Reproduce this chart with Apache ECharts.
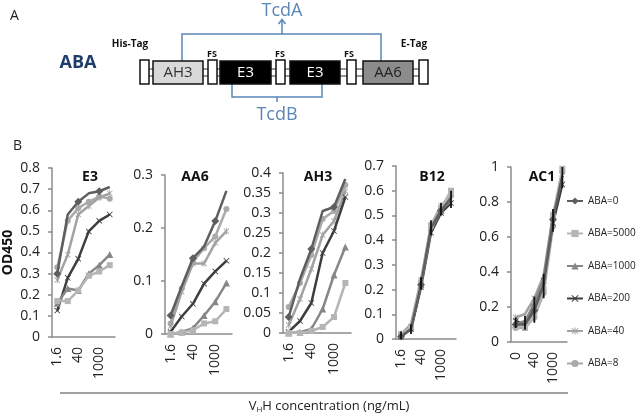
<!DOCTYPE html>
<html>
<head>
<meta charset="utf-8">
<script src="https://cdn.jsdelivr.net/npm/echarts@6/dist/echarts.min.js"></script>
<style>html,body{margin:0;padding:0;background:#fff}#c{width:640px;height:416px}</style>
</head>
<body>
<div id="c"></div>
<script>
// ---- categories / tick labels ----
const cats = ["1.6", "8", "40", "200", "1000", "5000"];
const catsAC1 = ["0", "8", "40", "200", "1000", "5000"];
const seriesNames = ["ABA=0", "ABA=5000", "ABA=1000", "ABA=200", "ABA=40", "ABA=8"];
const panelNames = ["E3", "AA6", "AH3", "B12", "AC1"];

// ---- E3 ----
const e3_aba0    = [0.30, 0.58, 0.64, 0.68, 0.69, 0.71];
const e3_aba5000 = [0.17, 0.17, 0.22, 0.29, 0.31, 0.34];
const e3_aba1000 = [0.16, 0.23, 0.22, 0.30, 0.34, 0.39];
const e3_aba200  = [0.125, 0.28, 0.37, 0.50, 0.55, 0.58];
const e3_aba40   = [0.27, 0.39, 0.58, 0.62, 0.66, 0.68];
const e3_aba8    = [0.33, 0.55, 0.61, 0.64, 0.665, 0.655];
// ---- AA6 ----
const aa6_aba0    = [0.035, 0.09, 0.143, 0.165, 0.213, 0.27];
const aa6_aba5000 = [0.0, 0.003, 0.007, 0.02, 0.024, 0.047];
const aa6_aba1000 = [0.0, 0.004, 0.011, 0.035, 0.061, 0.096];
const aa6_aba200  = [0.004, 0.033, 0.057, 0.095, 0.118, 0.138];
const aa6_aba40   = [0.015, 0.08, 0.133, 0.133, 0.172, 0.194];
const aa6_aba8    = [0.02, 0.086, 0.136, 0.162, 0.184, 0.236];
// ---- AH3 ----
const ah3_aba0    = [0.04, 0.135, 0.21, 0.305, 0.315, 0.385];
const ah3_aba5000 = [0.0, 0.0, 0.005, 0.015, 0.04, 0.125];
const ah3_aba1000 = [0.0, 0.002, 0.01, 0.06, 0.145, 0.215];
const ah3_aba200  = [0.003, 0.03, 0.075, 0.2, 0.255, 0.34];
const ah3_aba40   = [0.02, 0.085, 0.16, 0.245, 0.28, 0.355];
const ah3_aba8    = [0.065, 0.125, 0.195, 0.285, 0.305, 0.37];
// ---- B12 ----
const b12_aba0    = [0.01, 0.04, 0.22, 0.45, 0.52, 0.57];
const b12_aba5000 = [0.02, 0.05, 0.23, 0.46, 0.53, 0.60];
const b12_aba1000 = [0.01, 0.05, 0.22, 0.44, 0.52, 0.56];
const b12_aba200  = [0.01, 0.04, 0.21, 0.43, 0.51, 0.55];
const b12_aba40   = [0.02, 0.06, 0.24, 0.46, 0.54, 0.58];
const b12_aba8    = [0.01, 0.04, 0.22, 0.45, 0.53, 0.58];
const b12_errLow  = [0.0, 0.02, 0.20, 0.42, 0.50, 0.53];
const b12_errHigh = [0.03, 0.06, 0.25, 0.48, 0.55, 0.60];
// ---- AC1 ----
const ac1_aba0    = [0.10, 0.10, 0.18, 0.33, 0.70, 0.95];
const ac1_aba5000 = [0.09, 0.08, 0.15, 0.30, 0.72, 0.99];
const ac1_aba1000 = [0.10, 0.12, 0.22, 0.36, 0.72, 0.95];
const ac1_aba200  = [0.12, 0.10, 0.20, 0.35, 0.68, 0.90];
const ac1_aba40   = [0.14, 0.16, 0.25, 0.38, 0.73, 0.92];
const ac1_aba8    = [0.08, 0.08, 0.14, 0.28, 0.66, 0.97];
const ac1_errLow  = [0.08, 0.07, 0.11, 0.25, 0.63, 0.88];
const ac1_errHigh = [0.14, 0.15, 0.26, 0.39, 0.76, 1.00];

// ---- y axis ranges ----
const yMax = [0.8, 0.3, 0.4, 0.7, 1.0];
const yInterval = [0.1, 0.1, 0.05, 0.1, 0.2];

const panelData = [
  [e3_aba0, e3_aba5000, e3_aba1000, e3_aba200, e3_aba40, e3_aba8],
  [aa6_aba0, aa6_aba5000, aa6_aba1000, aa6_aba200, aa6_aba40, aa6_aba8],
  [ah3_aba0, ah3_aba5000, ah3_aba1000, ah3_aba200, ah3_aba40, ah3_aba8],
  [b12_aba0, b12_aba5000, b12_aba1000, b12_aba200, b12_aba40, b12_aba8],
  [ac1_aba0, ac1_aba5000, ac1_aba1000, ac1_aba200, ac1_aba40, ac1_aba8]
];
const errBars = { 3: [b12_errLow, b12_errHigh], 4: [ac1_errLow, ac1_errHigh] };

// ---- styling ----
const X_PATH = 'path://M1,0L5,4L9,0L10,1L6,5L10,9L9,10L5,6L1,10L0,9L4,5L0,1Z';
const STAR_PATH = 'path://M1,0L5,4L9,0L10,1L6,5L10,9L9,10L5,6L1,10L0,9L4,5L0,1Z M4.3,-1H5.7V11H4.3Z';
const styles = [
  { color: '#5e5e5e', symbol: 'diamond', size: 8 },
  { color: '#b5b5b5', symbol: 'rect', size: 6 },
  { color: '#878787', symbol: 'triangle', size: 7 },
  { color: '#3e3e3e', symbol: X_PATH, size: 6 },
  { color: '#a2a2a2', symbol: STAR_PATH, size: 7 },
  { color: '#a9a9a9', symbol: 'circle', size: 6 }
];
const grids = [
  { left: 52, top: 168, width: 63, height: 169 },
  { left: 165, top: 175, width: 67, height: 159 },
  { left: 283, top: 173, width: 68, height: 160 },
  { left: 396, top: 166, width: 60, height: 173 },
  { left: 511, top: 167, width: 56, height: 175 }
];
const titleX = [85, 190, 313, 427, 537];
const FONT = '"Open Sans", sans-serif';
const axisCol = '#8c8c8c';

const xAxes = [], yAxes = [], series = [], titles = [];
grids.forEach((g, i) => {
  xAxes.push({
    type: 'category', gridIndex: i, data: i === 4 ? catsAC1 : cats, boundaryGap: true,
    axisLine: { lineStyle: { color: axisCol, width: 1.5 } },
    axisTick: { show: false },
    axisLabel: { rotate: 90, interval: 1, margin: 10, fontSize: 14, color: '#222', fontFamily: FONT }
  });
  yAxes.push({
    type: 'value', gridIndex: i, min: 0, max: yMax[i], interval: yInterval[i],
    axisLine: { show: true, lineStyle: { color: axisCol, width: 1.5 } },
    axisTick: { show: true, length: 4, lineStyle: { color: axisCol, width: 1.5 } },
    splitLine: { show: false },
    axisLabel: { margin: 12, fontSize: 14, color: '#222', fontFamily: FONT },
    name: i === 0 ? 'OD450' : '', nameLocation: 'middle', nameGap: 37, nameRotate: 90,
    nameTextStyle: { fontSize: 14, fontWeight: 'bold', color: '#111', fontFamily: FONT }
  });
  titles.push({
    text: panelNames[i], left: titleX[i], top: 165, textAlign: 'center',
    textStyle: { fontSize: 14, fontWeight: 'bold', color: '#111', fontFamily: FONT }
  });
  panelData[i].forEach((arr, k) => {
    const s = styles[k];
    series.push({
      type: 'line', name: seriesNames[k], xAxisIndex: i, yAxisIndex: i, data: arr,
      symbol: s.symbol, symbolSize: s.size, symbolKeepAspect: true,
      lineStyle: { color: s.color, width: 2.5 }, itemStyle: { color: s.color },
      z: 2 + (5 - k), animation: false
    });
  });
  if (errBars[i]) {
    const lo = errBars[i][0], hi = errBars[i][1];
    series.push({
      type: 'custom', xAxisIndex: i, yAxisIndex: i, z: 20, animation: false,
      data: lo.map((v, j) => [j, v, hi[j]]),
      encode: { x: 0, y: [1, 2] },
      renderItem: function (params, api) {
        const x = api.value(0);
        const a = api.coord([x, api.value(1)]);
        const b = api.coord([x, api.value(2)]);
        return { type: 'line', shape: { x1: a[0], y1: a[1], x2: b[0], y2: b[1] }, style: { stroke: '#111', lineWidth: 1.8 } };
      }
    });
  }
});
titles.push({ text: 'A', left: 5, top: 4, textStyle: { fontSize: 14, fontWeight: 'normal', color: '#222', fontFamily: FONT } });
titles.push({ text: 'B', left: 8, top: 134, textStyle: { fontSize: 14, fontWeight: 'normal', color: '#222', fontFamily: FONT } });

// ---- Panel A diagram (decorative graphic) ----
const blue = '#5b86b8';
const gfx = [];
gfx.push({ type: 'line', shape: { x1: 149, y1: 69, x2: 419, y2: 69 }, style: { stroke: '#333', lineWidth: 1 }, z: 1 });
gfx.push({ type: 'line', shape: { x1: 149, y1: 76, x2: 419, y2: 76 }, style: { stroke: '#333', lineWidth: 1 }, z: 1 });
[140, 208, 276, 347, 419].forEach(x => {
  gfx.push({ type: 'rect', shape: { x: x, y: 60, width: 9, height: 24 }, style: { fill: '#fff', stroke: '#111', lineWidth: 1.5 }, z: 2 });
});
const boxes = [
  { x: 153, w: 50, fill: '#d9d9d9', label: 'AH3', tc: '#333' },
  { x: 220, w: 51, fill: '#000', label: 'E3', tc: '#fff' },
  { x: 290, w: 50, fill: '#000', label: 'E3', tc: '#fff' },
  { x: 363, w: 50, fill: '#8c8c8c', label: 'AA6', tc: '#222' }
];
boxes.forEach(b => {
  gfx.push({ type: 'rect', shape: { x: b.x, y: 61, width: b.w, height: 23 }, style: { fill: b.fill, stroke: '#111', lineWidth: 1.5 }, z: 2 });
  gfx.push({ type: 'text', x: b.x + b.w / 2, y: 73, style: { text: b.label, fill: b.tc, font: '15px "Open Sans", sans-serif', textAlign: 'center', textVerticalAlign: 'middle' }, z: 3 });
});
gfx.push({ type: 'polyline', shape: { points: [[182, 61], [182, 34], [381, 34], [381, 61]] }, style: { stroke: blue, lineWidth: 1.5, fill: null }, z: 1 });
gfx.push({ type: 'line', shape: { x1: 282, y1: 34, x2: 282, y2: 20 }, style: { stroke: blue, lineWidth: 1.5 }, z: 1 });
gfx.push({ type: 'polyline', shape: { points: [[278.5, 24], [282, 19.5], [285.5, 24]] }, style: { stroke: blue, lineWidth: 1.5, fill: null }, z: 1 });
gfx.push({ type: 'text', x: 282, y: 11, style: { text: 'TcdA', fill: blue, font: '18px "Open Sans", sans-serif', textAlign: 'center', textVerticalAlign: 'middle' } });
gfx.push({ type: 'polyline', shape: { points: [[232, 84], [232, 97], [322, 97], [322, 84]] }, style: { stroke: blue, lineWidth: 1.5, fill: null }, z: 1 });
gfx.push({ type: 'line', shape: { x1: 277, y1: 97, x2: 277, y2: 102 }, style: { stroke: blue, lineWidth: 1.5 }, z: 1 });
gfx.push({ type: 'text', x: 277, y: 115, style: { text: 'TcdB', fill: blue, font: '18px "Open Sans", sans-serif', textAlign: 'center', textVerticalAlign: 'middle' } });
gfx.push({ type: 'text', x: 78, y: 63, style: { text: 'ABA', fill: '#1f3d6b', font: 'bold 18px "Open Sans", sans-serif', textAlign: 'center', textVerticalAlign: 'middle' } });
gfx.push({ type: 'text', x: 130, y: 44, style: { text: 'His-Tag', fill: '#111', font: 'bold 10px "Open Sans", sans-serif', textAlign: 'center', textVerticalAlign: 'middle' } });
gfx.push({ type: 'text', x: 414, y: 44, style: { text: 'E-Tag', fill: '#111', font: 'bold 10px "Open Sans", sans-serif', textAlign: 'center', textVerticalAlign: 'middle' } });
[212, 280, 349].forEach(x => {
  gfx.push({ type: 'text', x: x, y: 54, style: { text: 'FS', fill: '#111', font: 'bold 9px "Open Sans", sans-serif', textAlign: 'center', textVerticalAlign: 'middle' } });
});
gfx.push({ type: 'line', shape: { x1: 60, y1: 393, x2: 568, y2: 393 }, style: { stroke: '#444', lineWidth: 1 } });
gfx.push({
  type: 'text', x: 329, y: 406,
  style: {
    text: 'V{s|H}H concentration (ng/mL)', textAlign: 'center', textVerticalAlign: 'middle',
    font: '13px "Open Sans", sans-serif', fill: '#222',
    rich: { s: { fontSize: 8, padding: [8, 0, 0, 0], fill: '#222', fontFamily: FONT } }
  }
});

const chart = echarts.init(document.getElementById('c'), null, { renderer: 'canvas' });
chart.setOption({
  backgroundColor: '#fff',
  animation: false,
  title: titles,
  legend: {
    data: seriesNames, orient: 'vertical', left: 566, top: 196,
    itemWidth: 16, itemHeight: 9, itemGap: 22.5, padding: 0,
    textStyle: { fontSize: 10, color: '#222', fontFamily: FONT, overflow: 'none', width: 60 }
  },
  grid: grids,
  xAxis: xAxes,
  yAxis: yAxes,
  series: series,
  graphic: gfx
});
</script>
</body>
</html>
